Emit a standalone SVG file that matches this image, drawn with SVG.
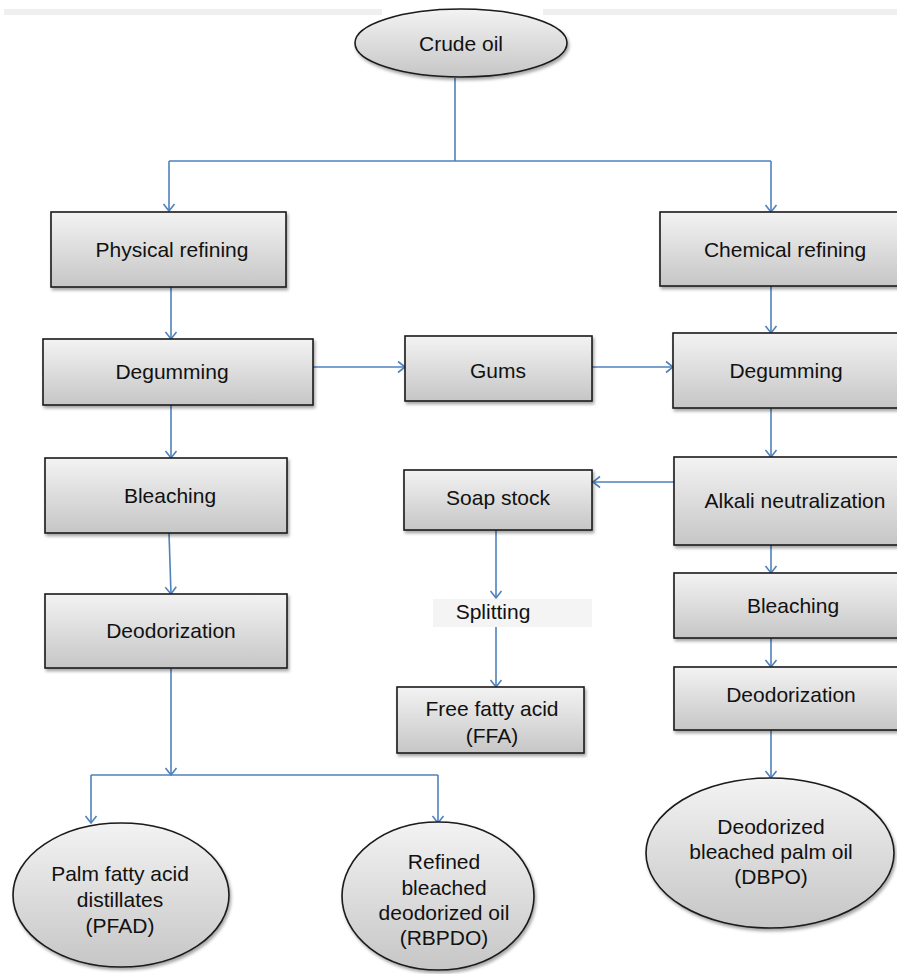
<svg xmlns="http://www.w3.org/2000/svg" width="897" height="974" viewBox="0 0 897 974">
<defs>
<linearGradient id="g" x1="0" y1="0" x2="0" y2="1">
<stop offset="0" stop-color="#f3f3f3"/>
<stop offset="1" stop-color="#c6c6c6"/>
</linearGradient>
<filter id="sh" x="-10%" y="-10%" width="125%" height="130%">
<feDropShadow dx="1.5" dy="2.5" stdDeviation="1.5" flood-color="#000" flood-opacity="0.35"/>
</filter>
<marker id="ah" markerUnits="userSpaceOnUse" markerWidth="14" markerHeight="14" viewBox="-8 -7 10 14" refX="0" refY="0" orient="auto">
<path d="M-7,-5.5 L0,0 L-7,5.5" fill="none" stroke="#4f81bd" stroke-width="1.6"/>
</marker>
</defs>
<style>
.box{fill:url(#g);stroke:#1a1a1a;stroke-width:1.6;filter:url(#sh)}
.ell{fill:url(#g);stroke:#1a1a1a;stroke-width:1.6;filter:url(#sh)}
.t{font-family:"Liberation Sans",Arial,sans-serif;font-size:21px;fill:#111;text-anchor:middle}
.c{fill:none;stroke:#4f81bd;stroke-width:1.6}
.a{marker-end:url(#ah)}
</style>
<rect width="897" height="974" fill="#fff"/>
<rect x="4" y="9" width="378" height="6" fill="#efefef"/>
<rect x="543" y="9" width="354" height="6" fill="#efefef"/>

<g id="connectors">
<path class="c" d="M455,78 V161 M169,161 H771"/>
<path class="c a" d="M169,161 V211"/>
<path class="c a" d="M771,161 V212"/>
<path class="c a" d="M171,287 V339"/>
<path class="c a" d="M313,367 H405"/>
<path class="c a" d="M592,367 H673"/>
<path class="c a" d="M171,405 V458"/>
<path class="c a" d="M169,533 L171,594"/>
<path class="c a" d="M171,668 V775"/>
<path class="c" d="M91,775 H438"/>
<path class="c a" d="M91,775 V823"/>
<path class="c a" d="M438,775 V823"/>
<path class="c a" d="M771,286 V333"/>
<path class="c a" d="M771,408 V457"/>
<path class="c a" d="M674,482 H593"/>
<path class="c a" d="M771,545 V573"/>
<path class="c a" d="M771,638 V667"/>
<path class="c a" d="M771,730 V778"/>
<path class="c a" d="M496,530 V598"/>
<path class="c a" d="M496,627 V687"/>
</g>

<g id="crude-oil">
<ellipse class="ell" cx="461" cy="43" rx="106" ry="34"/>
<text class="t" x="461" y="51">Crude oil</text>
</g>
<g id="physical-refining">
<rect class="box" x="51" y="212" width="235" height="75"/>
<text class="t" x="172" y="257">Physical refining</text>
</g>
<g id="chemical-refining">
<rect class="box" x="660" y="212" width="250" height="74"/>
<text class="t" x="785" y="257">Chemical refining</text>
</g>
<g id="degumming-left">
<rect class="box" x="43" y="339" width="270" height="66"/>
<text class="t" x="172" y="379">Degumming</text>
</g>
<g id="gums">
<rect class="box" x="405" y="336" width="187" height="65"/>
<text class="t" x="498" y="378">Gums</text>
</g>
<g id="degumming-right">
<rect class="box" x="673" y="333" width="240" height="75"/>
<text class="t" x="786" y="378">Degumming</text>
</g>
<g id="bleaching-left">
<rect class="box" x="45" y="458" width="242" height="75"/>
<text class="t" x="170" y="503">Bleaching</text>
</g>
<g id="soap-stock">
<rect class="box" x="404" y="470" width="188" height="60"/>
<text class="t" x="498" y="505">Soap stock</text>
</g>
<g id="alkali-neutralization">
<rect class="box" x="674" y="457" width="240" height="88"/>
<text class="t" x="795" y="508">Alkali neutralization</text>
</g>
<g id="deodorization-left">
<rect class="box" x="45" y="594" width="242" height="74"/>
<text class="t" x="171" y="638">Deodorization</text>
</g>
<g id="splitting">
<rect x="433" y="599" width="159" height="28" fill="#f4f4f4"/>
<text class="t" x="493" y="619">Splitting</text>
</g>
<g id="bleaching-right">
<rect class="box" x="674" y="573" width="240" height="65"/>
<text class="t" x="793" y="613">Bleaching</text>
</g>
<g id="deodorization-right">
<rect class="box" x="674" y="667" width="240" height="63"/>
<text class="t" x="791" y="702">Deodorization</text>
</g>
<g id="ffa">
<rect class="box" x="397" y="687" width="187" height="66"/>
<text class="t" x="492" y="716">Free fatty acid</text>
<text class="t" x="492" y="743">(FFA)</text>
</g>
<g id="pfad">
<ellipse class="ell" cx="121" cy="895" rx="108" ry="72"/>
<text class="t" x="120" y="881">Palm fatty acid</text>
<text class="t" x="120" y="907">distillates</text>
<text class="t" x="120" y="933">(PFAD)</text>
</g>
<g id="rbpdo">
<ellipse class="ell" cx="438" cy="896" rx="96" ry="74"/>
<text class="t" x="444" y="869">Refined</text>
<text class="t" x="444" y="895">bleached</text>
<text class="t" x="444" y="920">deodorized oil</text>
<text class="t" x="444" y="945">(RBPDO)</text>
</g>
<g id="dbpo">
<ellipse class="ell" cx="770" cy="853" rx="124" ry="75"/>
<text class="t" x="771" y="834">Deodorized</text>
<text class="t" x="771" y="859">bleached palm oil</text>
<text class="t" x="771" y="884">(DBPO)</text>
</g>
</svg>
